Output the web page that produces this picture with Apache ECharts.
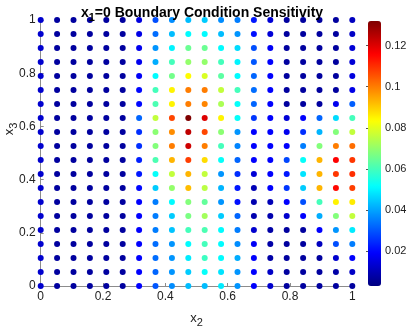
<!DOCTYPE html>
<html>
<head>
<meta charset="utf-8">
<script src="https://cdn.jsdelivr.net/npm/echarts@6/dist/echarts.min.js"></script>
<style>
html,body{margin:0;padding:0;background:#fff;}
#c{width:407px;height:327px;}
</style>
</head>
<body>
<div id="c"></div>
<script>
// grid coordinates (x2 columns, x3 rows) – 20 x 20 sample points
const x2Values = [0, 0.0526, 0.1053, 0.1579, 0.2105, 0.2632, 0.3158, 0.3684, 0.4211, 0.4737,
                  0.5263, 0.5789, 0.6316, 0.6842, 0.7368, 0.7895, 0.8421, 0.8947, 0.9474, 1];
const x3Values = [1, 0.9474, 0.8947, 0.8421, 0.7895, 0.7368, 0.6842, 0.6316, 0.5789, 0.5263,
                  0.4737, 0.4211, 0.3684, 0.3158, 0.2632, 0.2105, 0.1579, 0.1053, 0.0526, 0];
// sensitivity values, one row per x3 value (top row x3 = 1 down to x3 = 0)
const sensitivity = [
  [0.013,0.007,0.007,0.007,0.007,0.007,0.015,0.029,0.037,0.043, 0.045,0.037,0.035,0.022,0.014,0.007,0.007,0.007,0.007,0.011],
  [0.013,0.007,0.007,0.007,0.007,0.007,0.016,0.033,0.043,0.051, 0.051,0.043,0.038,0.021,0.014,0.007,0.007,0.007,0.007,0.012],
  [0.013,0.007,0.007,0.007,0.007,0.007,0.017,0.038,0.050,0.065, 0.065,0.051,0.047,0.029,0.018,0.007,0.007,0.007,0.007,0.014],
  [0.013,0.007,0.007,0.007,0.007,0.007,0.017,0.041,0.060,0.070, 0.070,0.060,0.050,0.030,0.019,0.007,0.007,0.007,0.007,0.014],
  [0.013,0.007,0.007,0.007,0.007,0.007,0.018,0.051,0.066,0.084, 0.079,0.063,0.051,0.032,0.019,0.007,0.007,0.007,0.007,0.015],
  [0.013,0.007,0.007,0.007,0.007,0.007,0.020,0.060,0.085,0.100, 0.100,0.076,0.060,0.033,0.019,0.007,0.007,0.007,0.007,0.016],
  [0.013,0.007,0.007,0.007,0.007,0.007,0.020,0.061,0.085,0.100, 0.099,0.073,0.052,0.032,0.019,0.007,0.007,0.007,0.017,0.031],
  [0.013,0.007,0.007,0.007,0.007,0.007,0.032,0.076,0.107,0.132, 0.120,0.085,0.052,0.026,0.019,0.014,0.019,0.032,0.047,0.060],
  [0.013,0.007,0.007,0.007,0.007,0.007,0.025,0.069,0.098,0.124, 0.107,0.069,0.038,0.019,0.019,0.017,0.025,0.042,0.068,0.076],
  [0.013,0.007,0.007,0.007,0.007,0.007,0.025,0.068,0.100,0.122, 0.100,0.060,0.036,0.019,0.019,0.019,0.035,0.068,0.100,0.102],
  [0.013,0.007,0.007,0.007,0.007,0.007,0.023,0.061,0.093,0.108, 0.088,0.052,0.032,0.019,0.019,0.028,0.052,0.093,0.116,0.109],
  [0.013,0.007,0.007,0.007,0.007,0.007,0.022,0.052,0.076,0.093, 0.076,0.038,0.025,0.014,0.019,0.022,0.048,0.093,0.109,0.110],
  [0.013,0.007,0.007,0.007,0.007,0.007,0.020,0.045,0.070,0.092, 0.075,0.042,0.022,0.010,0.019,0.026,0.045,0.093,0.115,0.108],
  [0.013,0.007,0.007,0.007,0.007,0.007,0.019,0.035,0.051,0.068, 0.064,0.038,0.021,0.009,0.010,0.019,0.029,0.060,0.085,0.086],
  [0.013,0.007,0.007,0.007,0.007,0.007,0.019,0.035,0.045,0.067, 0.072,0.045,0.032,0.009,0.009,0.013,0.019,0.041,0.068,0.076],
  [0.013,0.007,0.007,0.007,0.007,0.007,0.019,0.035,0.044,0.060, 0.061,0.051,0.035,0.013,0.008,0.007,0.007,0.019,0.038,0.049],
  [0.013,0.007,0.007,0.007,0.007,0.007,0.019,0.033,0.038,0.051, 0.060,0.051,0.037,0.018,0.008,0.007,0.007,0.011,0.029,0.035],
  [0.013,0.007,0.007,0.007,0.007,0.007,0.019,0.033,0.038,0.049, 0.059,0.051,0.041,0.019,0.008,0.007,0.007,0.007,0.013,0.019],
  [0.013,0.007,0.007,0.007,0.007,0.007,0.019,0.032,0.038,0.045, 0.052,0.048,0.038,0.019,0.012,0.007,0.007,0.007,0.008,0.012],
  [0.013,0.007,0.007,0.007,0.007,0.007,0.019,0.030,0.037,0.043, 0.043,0.049,0.038,0.019,0.013,0.007,0.007,0.007,0.007,0.007]
];
const axisTicks = [0, 0.2, 0.4, 0.6, 0.8, 1];
const colorbarTicks = [0.02, 0.04, 0.06, 0.08, 0.1, 0.12];
const colorMin = 0.003;
const colorMax = 0.132;
const jetColors = ['#00007F','#0000FF','#007FFF','#00FFFF','#7FFF7F','#FFFF00','#FF7F00','#FF0000','#7F0000'];

const points = [];
sensitivity.forEach((row, r) => {
  row.forEach((v, c) => points.push([x2Values[c], x3Values[r], v]));
});

const FONT = 'Liberation Sans, Arial, Helvetica, sans-serif';
const nameRich = {
  t: {fontSize: 13, fill: '#222', color: '#222', fontFamily: FONT, lineHeight: 14},
  s: {fontSize: 11, fill: '#222', color: '#222', fontFamily: FONT, lineHeight: 14, padding: [10, 0, 0, 0]}
};
const chart = echarts.init(document.getElementById('c'), null, {renderer: 'canvas'});
chart.setOption({
  animation: false,
  backgroundColor: '#fff',
  textStyle: {fontFamily: FONT},
  title: {
    text: '{t|x}{s|1}{t|=0 Boundary Condition Sensitivity}',
    left: 197, top: -1, textAlign: 'center',
    textStyle: {
      rich: {
        t: {fontSize: 14, fontWeight: 'bold', color: '#000', fontFamily: FONT, lineHeight: 18},
        s: {fontSize: 11, fontWeight: 'bold', color: '#000', fontFamily: FONT, lineHeight: 18, padding: [10, 0, 0, 0]}
      }
    }
  },
  graphic: [{
    type: 'text', x: 9, y: 129, rotation: Math.PI / 2, z: 10,
    style: {text: '{t|x}{s|3}', align: 'center', verticalAlign: 'middle', rich: nameRich}
  }],
  grid: [
    {left: 40.7, top: 20, width: 311.6, height: 266, containLabel: false, outerBoundsMode: 'none'},
    {left: 368, top: 21, width: 13, height: 265, containLabel: false, outerBoundsMode: 'none'}
  ],
  xAxis: [
    {
      type: 'value', gridIndex: 0, min: 0, max: 1, interval: 0.2,
      name: '{t|x}{s|2}', nameLocation: 'middle', nameGap: 20,
      nameTextStyle: {rich: nameRich},
      axisLine: {show: true, lineStyle: {color: '#8c8c8c', width: 1}},
      axisTick: {show: true, inside: true, length: 3, lineStyle: {color: '#8c8c8c'}},
      axisLabel: {color: '#222', fontSize: 12, margin: 5, fontFamily: FONT,
                  formatter: v => String(+v.toFixed(2))},
      splitLine: {show: false}
    },
    {type: 'value', gridIndex: 1, min: 0, max: 1, show: false}
  ],
  yAxis: [
    {
      type: 'value', gridIndex: 0, min: 0, max: 1, interval: 0.2,
      axisLine: {show: true, lineStyle: {color: '#8c8c8c', width: 1}},
      axisTick: {show: true, inside: true, length: 3, lineStyle: {color: '#8c8c8c'}},
      axisLabel: {color: '#222', fontSize: 12, margin: 5, fontFamily: FONT,
                  formatter: v => String(+v.toFixed(2))},
      splitLine: {show: false}
    },
    {
      type: 'value', gridIndex: 1, min: colorMin, max: colorMax, position: 'right',
      axisLine: {show: false},
      axisTick: {show: true, inside: true, length: 2, customValues: colorbarTicks, lineStyle: {color: '#555'}},
      axisLabel: {show: true, customValues: colorbarTicks, color: '#222', fontSize: 11, margin: 4, fontFamily: FONT,
                  formatter: v => String(+v.toFixed(2))},
      splitLine: {show: false}
    }
  ],
  visualMap: {
    type: 'continuous', seriesIndex: 0, dimension: 2,
    min: colorMin, max: colorMax, calculable: false,
    left: 368, top: 21, itemWidth: 13, itemHeight: 265, padding: 0,
    orient: 'vertical', text: null, showLabel: false,
    inRange: {color: jetColors},
    borderWidth: 0
  },
  series: [{
    type: 'scatter', xAxisIndex: 0, yAxisIndex: 0,
    symbol: 'circle', symbolSize: 6, clip: false,
    itemStyle: {opacity: 1},
    data: points, z: 5
  }]
});
</script>
</body>
</html>
